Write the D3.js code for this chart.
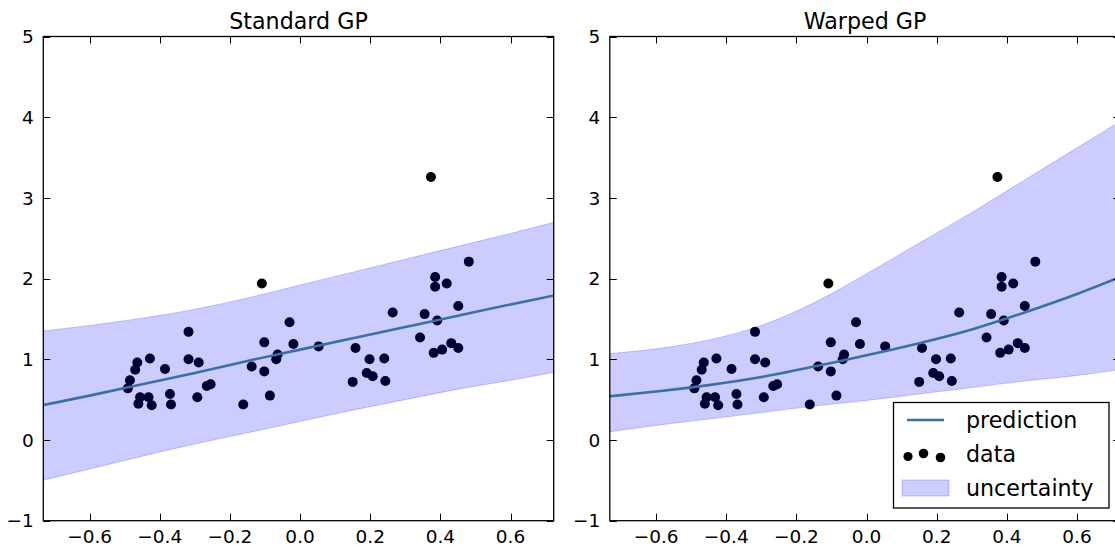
<!DOCTYPE html>
<html>
<head>
<meta charset="utf-8">
<script src="https://cdn.jsdelivr.net/npm/d3@7"></script>
<style>
  html, body { margin: 0; padding: 0; background: #fff; }
  svg { display: block; font-family: "DejaVu Sans", sans-serif; }
</style>
</head>
<body>
<svg id="chart" width="1115" height="550"></svg>
<script>
// Observations (shared by both models)
const obsX = [-0.109, -0.318, -0.464, -0.470, -0.485, -0.491, -0.428, -0.385, -0.318, -0.289,
              -0.456, -0.461, -0.432, -0.423, -0.371, -0.368, -0.293, -0.266, -0.255, -0.162,
              -0.138, -0.102, -0.102, -0.086, -0.068, -0.064, -0.030, -0.019, 0.373, 0.053,
              0.158, 0.150, 0.198, 0.190, 0.207, 0.240, 0.243, 0.264, 0.342, 0.355,
              0.385, 0.385, 0.418, 0.391, 0.381, 0.405, 0.431, 0.451, 0.451, 0.481];
const obsY = [1.94, 1.34, 0.96, 0.87, 0.74, 0.64, 1.01, 0.88, 1.00, 0.96,
              0.53, 0.45, 0.53, 0.43, 0.57, 0.44, 0.53, 0.67, 0.69, 0.44,
              0.91, 1.21, 0.85, 0.55, 1.00, 1.06, 1.46, 1.19, 3.26, 1.16,
              1.14, 0.72, 1.00, 0.83, 0.79, 1.01, 0.73, 1.58, 1.27, 1.56,
              2.02, 1.90, 1.94, 1.48, 1.08, 1.12, 1.20, 1.14, 1.66, 2.21];

// Prediction grid
const gridX = [-0.735, -0.6, -0.45, -0.3, -0.15, 0.0, 0.15, 0.3, 0.45, 0.6, 0.735];

// Standard GP
const stdMean  = [0.43, 0.55, 0.69, 0.83, 0.98, 1.12, 1.26, 1.40, 1.54, 1.68, 1.80];
const stdLower = [-0.50, -0.36, -0.20, -0.05, 0.09, 0.23, 0.37, 0.50, 0.63, 0.74, 0.85];
const stdUpper = [1.35, 1.42, 1.51, 1.62, 1.76, 1.92, 2.08, 2.24, 2.40, 2.56, 2.71];

// Warped GP
const warpMean  = [0.54, 0.60, 0.68, 0.78, 0.91, 1.05, 1.20, 1.37, 1.58, 1.81, 2.04];
const warpLower = [0.10, 0.18, 0.26, 0.34, 0.42, 0.49, 0.57, 0.65, 0.73, 0.80, 0.88];
const warpUpper = [1.07, 1.13, 1.24, 1.42, 1.70, 2.06, 2.44, 2.82, 3.22, 3.62, 3.98];

const xTicks = [-0.6, -0.4, -0.2, 0.0, 0.2, 0.4, 0.6];
const yTicks = [-1, 0, 1, 2, 3, 4, 5];
const titles = ["Standard GP", "Warped GP"];
const legendLabels = ["prediction", "data", "uncertainty"];

const xDomain = [-0.732, 0.723];
const yDomain = [-1, 5];
const lineColor = "#3a6fa8";

const svg = d3.select("#chart");
const fmtX = v => d3.format(".1f")(v).replace("-", "\u2212");
const fmtY = v => String(v).replace("-", "\u2212");

const panels = [
  { left: 43.3, right: 553.7, mean: stdMean, lower: stdLower, upper: stdUpper, title: titles[0] },
  { left: 609.8, right: 1120.2, mean: warpMean, lower: warpLower, upper: warpUpper, title: titles[1] }
];
const plotTop = 36.5, plotBottom = 520.7;

panels.forEach((p, i) => {
  const x = d3.scaleLinear().domain(xDomain).range([p.left, p.right]);
  const y = d3.scaleLinear().domain(yDomain).range([plotBottom, plotTop]);
  const g = svg.append("g");

  const clipId = "clip" + i;
  g.append("clipPath").attr("id", clipId)
    .append("rect").attr("x", p.left).attr("y", plotTop)
    .attr("width", p.right - p.left).attr("height", plotBottom - plotTop);

  const plot = g.append("g").attr("clip-path", `url(#${clipId})`);

  // data points
  plot.selectAll("circle").data(d3.range(obsX.length)).join("circle")
    .attr("cx", k => x(obsX[k])).attr("cy", k => y(obsY[k]))
    .attr("r", 5).attr("fill", "#000");

  // uncertainty band over the points
  const rows = gridX.map((gx, k) => ({ x: gx, m: p.mean[k], lo: p.lower[k], hi: p.upper[k] }));
  const area = d3.area().x(d => x(d.x)).y0(d => y(d.lo)).y1(d => y(d.hi)).curve(d3.curveNatural);
  plot.append("path").datum(rows).attr("d", area)
    .attr("fill", "blue").attr("fill-opacity", 0.2)
    .attr("stroke", "blue").attr("stroke-opacity", 0.2).attr("stroke-width", 1);

  // prediction
  const line = d3.line().x(d => x(d.x)).y(d => y(d.m)).curve(d3.curveNatural);
  plot.append("path").datum(rows).attr("d", line)
    .attr("fill", "none").attr("stroke", lineColor).attr("stroke-width", 2.6);

  // frame
  g.append("rect").attr("x", p.left).attr("y", plotTop)
    .attr("width", p.right - p.left).attr("height", plotBottom - plotTop)
    .attr("fill", "none").attr("stroke", "#000").attr("stroke-width", 1.3);

  // inward ticks on all four sides
  const tl = 7;
  xTicks.forEach(t => {
    const xx = Math.round(x(t)) + 0.5;
    g.append("line").attr("x1", xx).attr("x2", xx).attr("y1", plotBottom).attr("y2", plotBottom - tl)
      .attr("stroke", "#000").attr("stroke-width", 1);
    g.append("line").attr("x1", xx).attr("x2", xx).attr("y1", plotTop).attr("y2", plotTop + tl)
      .attr("stroke", "#000").attr("stroke-width", 1);
    g.append("text").attr("x", x(t)).attr("y", 543)
      .attr("text-anchor", "middle").attr("font-size", 18.5).attr("fill", "#000")
      .text(fmtX(t));
  });
  yTicks.forEach(t => {
    const yy = Math.round(y(t)) + 0.5;
    g.append("line").attr("x1", p.left).attr("x2", p.left + tl).attr("y1", yy).attr("y2", yy)
      .attr("stroke", "#000").attr("stroke-width", 1);
    g.append("line").attr("x1", p.right).attr("x2", p.right - tl).attr("y1", yy).attr("y2", yy)
      .attr("stroke", "#000").attr("stroke-width", 1);
    g.append("text").attr("x", p.left - 9.5).attr("y", y(t) + 6.7)
      .attr("text-anchor", "end").attr("font-size", 18.5).attr("fill", "#000")
      .text(fmtY(t));
  });

  g.append("text").attr("x", (p.left + p.right) / 2).attr("y", 29)
    .attr("text-anchor", "middle").attr("font-size", 22.2).attr("fill", "#000")
    .text(p.title);

  // legend in the warped panel
  if (i === 1) {
    const lg = svg.append("g");
    lg.append("rect").attr("x", 893.5).attr("y", 402.5).attr("width", 215.5).attr("height", 105.5)
      .attr("fill", "#fff").attr("stroke", "#000").attr("stroke-width", 1.3);
    const tx = 966;
    lg.append("line").attr("x1", 907).attr("x2", 944).attr("y1", 420).attr("y2", 420)
      .attr("stroke", lineColor).attr("stroke-width", 2.6);
    lg.append("text").attr("x", tx).attr("y", 428).attr("font-size", 22.2).attr("fill", "#000")
      .text(legendLabels[0]);
    [[908, 456.5, 4.6], [923.5, 453.5, 4.8], [940.5, 457.5, 4.8]].forEach(([cx, cy, r]) =>
      lg.append("circle").attr("cx", cx).attr("cy", cy).attr("r", r).attr("fill", "#000"));
    lg.append("text").attr("x", tx).attr("y", 462).attr("font-size", 22.2).attr("fill", "#000")
      .text(legendLabels[1]);
    lg.append("rect").attr("x", 902).attr("y", 480).attr("width", 47).attr("height", 16)
      .attr("fill", "blue").attr("fill-opacity", 0.2)
      .attr("stroke", "blue").attr("stroke-opacity", 0.2);
    lg.append("text").attr("x", tx).attr("y", 496).attr("font-size", 22.2).attr("fill", "#000")
      .text(legendLabels[2]);
  }
});
</script>
</body>
</html>
